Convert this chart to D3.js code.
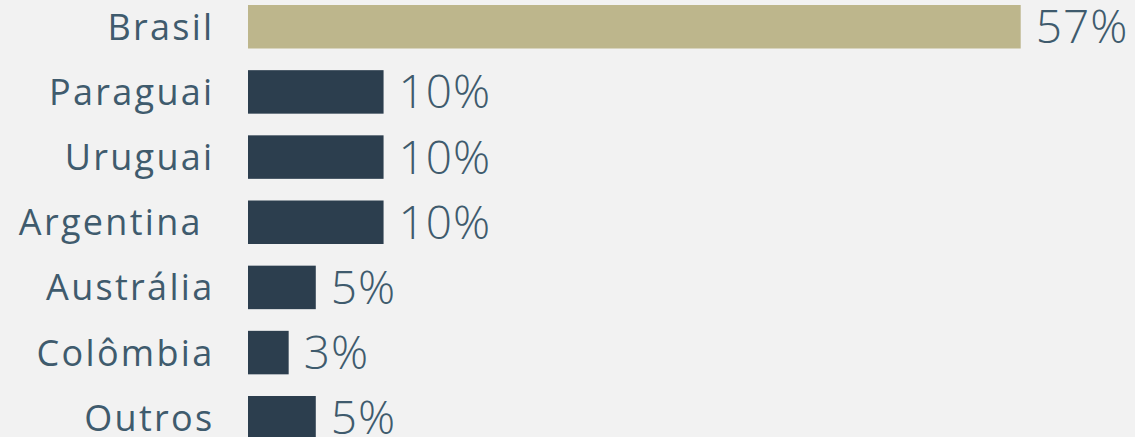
<!DOCTYPE html>
<html>
<head>
<meta charset="utf-8">
<script src="https://cdn.jsdelivr.net/npm/d3@7/dist/d3.min.js"></script>
<style>
  html, body { margin: 0; padding: 0; background: #f2f2f2; }
  svg { display: block; }
  text { font-family: "Open Sans", "Noto Sans", sans-serif; white-space: pre; }
</style>
</head>
<body>
<svg id="chart" width="1135" height="437"></svg>
<script>
const categories = ["Brasil", "Paraguai", "Uruguai", "Argentina ", "Austrália", "Colômbia", "Outros"];
const shares = [57, 10, 10, 10, 5, 3, 5];
const valueLabels = ["57%", "10%", "10%", "10%", "5%", "3%", "5%"];
const highlight = "Brasil";

const W = 1135, H = 437;
const svg = d3.select("#chart");
svg.append("rect").attr("width", W).attr("height", H).attr("fill", "#f2f2f2");

const x = d3.scaleLinear().domain([0, 57]).range([248, 1020.7]);
const y = d3.scaleBand().domain(categories).range([5, 439.5]).paddingInner(0.3325).paddingOuter(0);

const rows = categories.map((c, i) => ({ c, v: shares[i], lab: valueLabels[i] }));

svg.selectAll("rect.bar").data(rows).enter().append("rect")
  .attr("class", "bar")
  .attr("x", x(0))
  .attr("y", d => y(d.c))
  .attr("width", d => x(d.v) - x(0))
  .attr("height", y.bandwidth())
  .attr("fill", d => d.c === highlight ? "#bdb68c" : "#2c3e4e");

svg.selectAll("text.cat").data(rows).enter().append("text")
  .attr("class", "cat")
  .attr("x", 214.5)
  .attr("y", d => y(d.c) + y.bandwidth() / 2 + 13)
  .attr("text-anchor", "end")
  .attr("font-size", 36)
  .attr("font-weight", 400)
  .attr("letter-spacing", 2.3)
  .attr("fill", "#3f5b6d")
  .text(d => d.c);

svg.selectAll("text.val").data(rows).enter().append("text")
  .attr("class", "val")
  .attr("x", d => x(d.v) + 15)
  .attr("y", d => y(d.c) + y.bandwidth() / 2 + 16.5)
  .attr("font-size", 46)
  .attr("font-weight", 300)
  .attr("letter-spacing", 1)
  .attr("fill", "#3f5b6d")
  .text(d => d.lab);
</script>
</body>
</html>
